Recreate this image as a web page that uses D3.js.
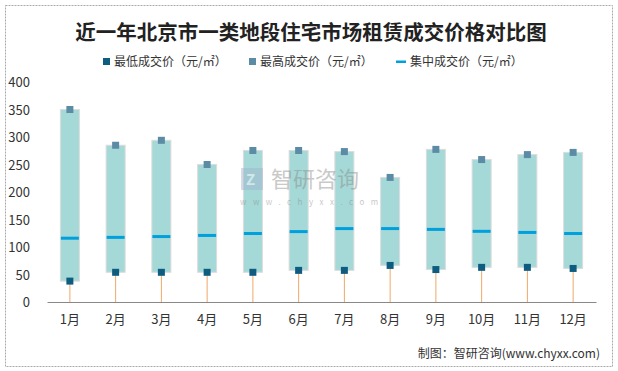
<!DOCTYPE html>
<html>
<head>
<meta charset="utf-8">
<script src="https://cdn.jsdelivr.net/npm/d3@7"></script>
<style>
  body { margin: 0; background: #fff; }
  text { font-family: "Noto Sans CJK SC", "DejaVu Sans", sans-serif; }
</style>
</head>
<body>
<div id="chart"></div>
<script>
(function() {
	var width = 618, height = 371;

	// data
	var months = ["1月","2月","3月","4月","5月","6月","7月","8月","9月","10月","11月","12月"];
	var lowPrice = [38, 54, 54, 54, 54, 57.5, 57.5, 66.5, 59, 63, 63, 61];
	var highPrice = [350, 285, 294, 250, 275.5, 275.5, 273.5, 226.5, 277.5, 259, 268, 272];
	var midPrice = [116, 117.5, 119, 121, 124.5, 128, 133.5, 133.5, 132, 128.5, 126.5, 124.5];
	var yTicks = [0, 50, 100, 150, 200, 250, 300, 350, 400];
	var legendNames = ["最低成交价（元/㎡）", "最高成交价（元/㎡）", "集中成交价（元/㎡）"];

	var data = months.map(function(m, i) {
		return {month: m, low: lowPrice[i], high: highPrice[i], mid: midPrice[i]};
	});

	var svg = d3.select("#chart")
		.append("svg")
		.attr("width", width)
		.attr("height", height)

	// outer frame
	svg.append("rect")
		.attr("x", 5.5).attr("y", 5.5)
		.attr("width", 607).attr("height", 361)
		.attr("fill", "#fff")
		.attr("stroke", "#aaa")
		.attr("stroke-dasharray", "2,1")

	var x = d3.scaleBand().domain(months).range([47, 596])
	var y = d3.scaleLinear().domain([0, 400]).range([302, 82])

	// title
	svg.append("text")
		.attr("x", 311).attr("y", 40)
		.attr("text-anchor", "middle")
		.attr("font-size", 20.5)
		.attr("font-weight", "bold")
		.attr("fill", "#222")
		.text("近一年北京市一类地段住宅市场租赁成交价格对比图")

	// legend
	var legend = svg.append("g").attr("font-size", 12).attr("fill", "#333")
	var legendX = [103, 249, 396];
	legend.append("rect").attr("x", legendX[0]).attr("y", 58).attr("width", 7).attr("height", 7).attr("fill", "#0e5d80")
	legend.append("rect").attr("x", legendX[1]).attr("y", 58).attr("width", 7).attr("height", 7).attr("fill", "#5b8ba5")
	legend.append("rect").attr("x", legendX[2]).attr("y", 60.5).attr("width", 10).attr("height", 2.5).attr("fill", "#00a0dc")
	legendNames.forEach(function(n, i) {
		legend.append("text")
			.attr("x", legendX[i] + (i == 2 ? 14 : 11)).attr("y", 66)
			.text(n)
	})

	// y axis labels
	svg.append("g").selectAll("text")
		.data(yTicks)
		.enter().append("text")
		.attr("x", 30)
		.attr("y", function(d) { return y(d) + 5 })
		.attr("text-anchor", "end")
		.attr("font-size", 13)
		.attr("fill", "#333")
		.text(function(d) { return d })

	// orange lines from axis to low
	svg.append("g").selectAll("line")
		.data(data)
		.enter().append("line")
		.attr("x1", function(d) { return x(d.month) + x.bandwidth()/2 })
		.attr("x2", function(d) { return x(d.month) + x.bandwidth()/2 })
		.attr("y1", y(0))
		.attr("y2", function(d) { return y(d.low) })
		.attr("stroke", "#f0a868")
		.attr("stroke-width", 1)

	// boxes
	svg.append("g").selectAll("rect")
		.data(data)
		.enter().append("rect")
		.attr("x", function(d) { return x(d.month) + x.bandwidth()/2 - 9.5 })
		.attr("y", function(d) { return y(d.high) })
		.attr("width", 19)
		.attr("height", function(d) { return y(d.low) - y(d.high) })
		.attr("fill", "#a5d9d7")
		.attr("stroke", "#dcdcdc")
		.attr("stroke-width", 1)

	// median
	svg.append("g").selectAll("rect")
		.data(data)
		.enter().append("rect")
		.attr("x", function(d) { return x(d.month) + x.bandwidth()/2 - 9 })
		.attr("y", function(d) { return y(d.mid) - 1.5 })
		.attr("width", 18)
		.attr("height", 3)
		.attr("fill", "#00a0dc")

	// high markers
	svg.append("g").selectAll("rect")
		.data(data)
		.enter().append("rect")
		.attr("x", function(d) { return x(d.month) + x.bandwidth()/2 - 3.5 })
		.attr("y", function(d) { return y(d.high) - 3.5 })
		.attr("width", 7).attr("height", 7)
		.attr("fill", "#5b8ba5")

	// low markers
	svg.append("g").selectAll("rect")
		.data(data)
		.enter().append("rect")
		.attr("x", function(d) { return x(d.month) + x.bandwidth()/2 - 3.5 })
		.attr("y", function(d) { return y(d.low) - 3.5 })
		.attr("width", 7).attr("height", 7)
		.attr("fill", "#0e5d80")

	// x axis
	var xAxis = svg.append("g")
		.attr("transform", "translate(0," + y(0) + ")")
		.call(d3.axisBottom(x).tickSize(0).tickPadding(13))
	xAxis.select(".domain").attr("stroke", "#888")
	xAxis.selectAll("text")
		.attr("font-size", 13)
		.attr("fill", "#333")
		.attr("font-family", "\"Noto Sans CJK SC\", sans-serif")

	// watermark, drawn over the marks
	var wm = svg.append("g").attr("opacity", 0.45)
	wm.append("rect").attr("x", 241).attr("y", 168).attr("width", 22).attr("height", 22).attr("fill", "#9fb3cc")
	wm.append("text").attr("x", 246).attr("y", 185).attr("font-size", 15).attr("font-weight", "bold").attr("fill", "#fff").text("Z")
	wm.append("text").attr("x", 271).attr("y", 187).attr("font-size", 22).attr("fill", "#888").text("智研咨询")
	wm.append("text").attr("x", 240).attr("y", 205).attr("font-size", 8).attr("fill", "#888")
		.attr("letter-spacing", "6.5px").text("www.chyxx.com")

	// source
	svg.append("text")
		.attr("x", 600).attr("y", 358)
		.attr("text-anchor", "end")
		.attr("font-size", 12)
		.attr("fill", "#333")
		.text("制图：智研咨询(www.chyxx.com)")
})();
</script>
</body>
</html>
